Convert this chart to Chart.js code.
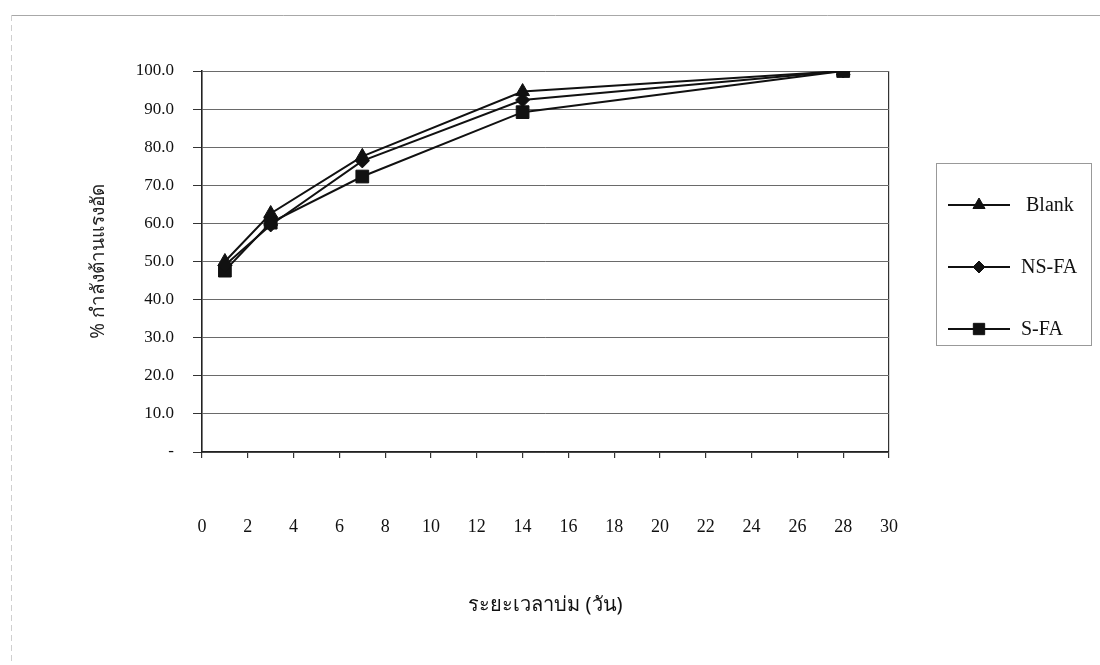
<!DOCTYPE html>
<html>
<head>
<meta charset="utf-8">
<script src="https://cdn.jsdelivr.net/npm/chart.js@4.4.1/dist/chart.umd.min.js"></script>
<style>
  html, body { margin: 0; padding: 0; background: #fff; }
  #wrap { width: 1100px; height: 665px; position: relative; }
</style>
</head>
<body>
<div id="wrap"><canvas id="strength"></canvas></div>
<script>
// curing age (days) and % compressive strength of each mix
const days = [1, 3, 7, 14, 28];
const blank = [50.0, 62.6, 77.6, 94.6, 100.0];
const nsFa = [49.0, 59.6, 76.4, 92.4, 100.0];
const sFa = [47.6, 60.2, 72.3, 89.2, 100.0];
const seriesNames = ['Blank', 'NS-FA', 'S-FA'];
const markerStyles = ['triangle', 'rectRot', 'rect'];
const markerSizes = [8, 7, 9];

const serif = '"Liberation Serif", "Times New Roman", serif';
const thai = '"Noto Sans", "DejaVu Sans", sans-serif';
const ink = '#111';

function points(values) {
  return days.map((d, i) => ({ x: d, y: values[i] }));
}

function makeSeries(i, values) {
  return {
    label: seriesNames[i],
    data: points(values),
    borderColor: ink,
    backgroundColor: ink,
    borderWidth: 2,
    pointStyle: markerStyles[i],
    pointRadius: markerSizes[i],
    pointBackgroundColor: ink,
    pointBorderColor: ink,
    pointBorderWidth: 1,
    tension: 0
  };
}

// light page frame drawn behind everything
const pageFrame = {
  id: 'pageFrame',
  beforeDraw(chart) {
    const ctx = chart.ctx;
    ctx.save();
    ctx.fillStyle = '#fff';
    ctx.fillRect(0, 0, chart.width, chart.height);
    ctx.strokeStyle = '#a8a8a8';
    ctx.lineWidth = 1;
    ctx.beginPath();
    ctx.moveTo(11, 15.5);
    ctx.lineTo(1100, 15.5);
    ctx.stroke();
    ctx.strokeStyle = '#cfcfcf';
    ctx.setLineDash([6, 4]);
    ctx.beginPath();
    ctx.moveTo(11.5, 15);
    ctx.lineTo(11.5, 665);
    ctx.stroke();
    ctx.restore();
  }
};

// boxed legend on the right: line + marker + name
const sideLegend = {
  id: 'sideLegend',
  afterDraw(chart) {
    const ctx = chart.ctx;
    ctx.save();
    ctx.strokeStyle = '#999';
    ctx.lineWidth = 1;
    ctx.strokeRect(936.5, 163.5, 155, 182);
    chart.data.datasets.forEach((ds, i) => {
      const y = 205 + i * 62;
      ctx.strokeStyle = ink;
      ctx.lineWidth = 2;
      ctx.beginPath();
      ctx.moveTo(948, y);
      ctx.lineTo(1010, y);
      ctx.stroke();
      ctx.fillStyle = ink;
      ctx.lineWidth = 1;
      Chart.helpers.drawPoint(ctx, {
        pointStyle: ds.pointStyle,
        radius: ds.pointRadius - 1,
        borderWidth: 1,
        rotation: 0
      }, 979, y);
      ctx.fillStyle = ink;
      ctx.font = '20px ' + serif;
      ctx.textBaseline = 'middle';
      ctx.textAlign = 'left';
      ctx.fillText(ds.label, i === 0 ? 1026 : 1021, y + 1);
    });
    ctx.restore();
  }
};

new Chart(document.getElementById('strength'), {
  type: 'line',
  data: {
    datasets: [makeSeries(0, blank), makeSeries(1, nsFa), makeSeries(2, sFa)]
  },
  options: {
    responsive: true,
    maintainAspectRatio: false,
    animation: false,
    layout: { padding: { left: 0, right: 211, top: 71, bottom: 0 } },
    plugins: {
      legend: { display: false },
      tooltip: { enabled: false }
    },
    scales: {
      x: {
        type: 'linear',
        min: 0,
        max: 30,
        afterFit(scale) { scale.height = 213; },
        ticks: {
          stepSize: 2,
          padding: 58,
          color: ink,
          font: { family: serif, size: 18 }
        },
        grid: {
          drawOnChartArea: true,
          tickLength: 6,
          tickColor: '#333',
          color: (c) => (c.tick && c.tick.value === 30 ? '#333' : 'rgba(0,0,0,0)'),
          lineWidth: 1.2
        },
        border: { color: '#222', width: 1.6 },
        title: {
          display: true,
          text: 'ระยะเวลาบ่ม (วัน)',
          color: ink,
          font: { family: thai, size: 20 },
          padding: { top: 0, bottom: 48 }
        }
      },
      y: {
        min: 0,
        max: 100,
        afterFit(scale) { scale.width = 202; },
        ticks: {
          stepSize: 10,
          padding: 19,
          color: ink,
          font: { family: serif, size: 17 },
          callback: (v) => (v === 0 ? '-' : v.toFixed(1))
        },
        grid: {
          tickLength: 9,
          tickColor: '#333',
          color: '#6a6a6a',
          lineWidth: 1
        },
        border: { color: '#222', width: 1.6 },
        title: {
          display: true,
          text: '% กำลังต้านแรงอัด',
          color: '#222',
          font: { family: thai, size: 19 },
          padding: { top: 87, bottom: 0 }
        }
      }
    }
  },
  plugins: [pageFrame, sideLegend]
});
</script>
</body>
</html>
